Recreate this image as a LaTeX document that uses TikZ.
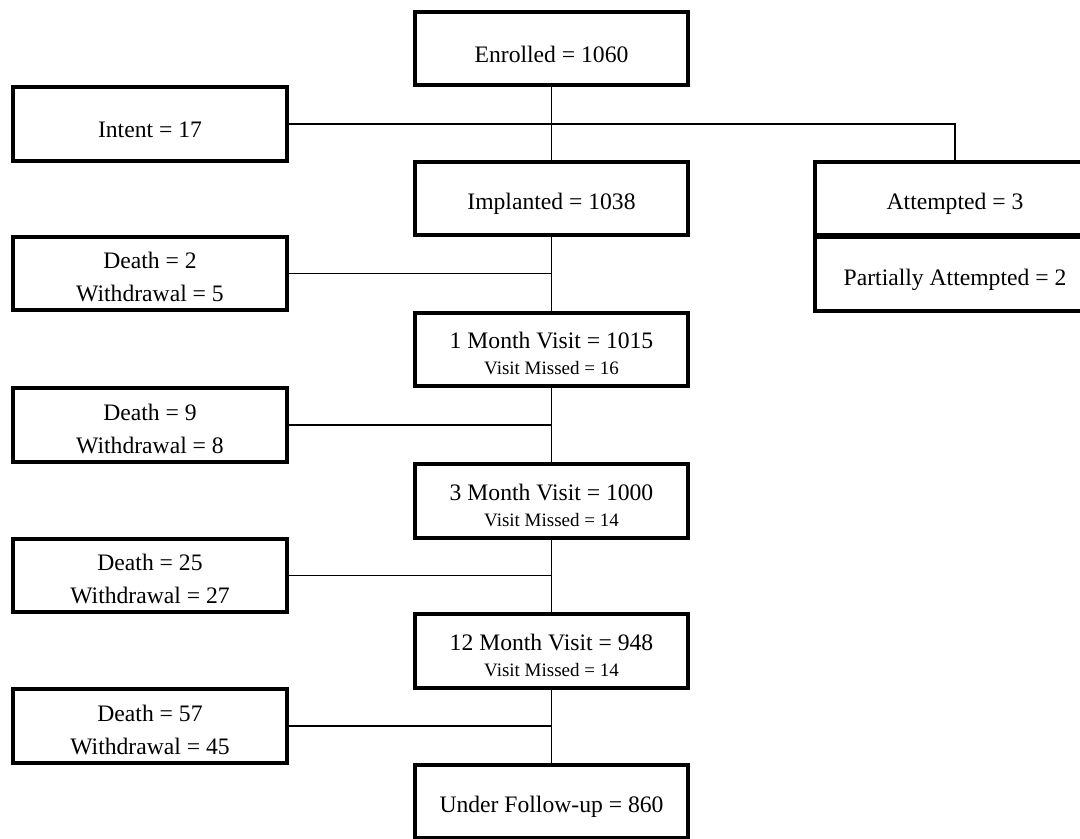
\documentclass[tikz,border=0pt]{standalone}
\usepackage{fontspec}
\setmainfont{Liberation Serif}

\begin{document}
\begin{tikzpicture}[x=0.025cm,y=-0.025cm,
  box/.style={draw,line width=2.9pt,minimum width=6.83cm,minimum height=1.83cm,inner sep=0pt,align=center,
    font=\fontsize{16.8}{23.4}\selectfont,execute at begin node={\rule{0pt}{#1}}},
  box/.default=19.5pt,
  link/.style={line width=0.9pt}]
  \useasboundingbox (0,0) rectangle (1080,838);

  % main column
  \node[box] (enrolled) at (551.5,48.5) {Enrolled = 1060};
  \node[box] (implanted) at (551.5,198.5) {Implanted = 1038};
  \node[box=36pt] (month1) at (551.5,349.5) {1 Month Visit = 1015\\[-5pt]{\fontsize{13.5}{15}\selectfont Visit Missed = 16}};
  \node[box=36pt] (month3) at (551.5,501) {3 Month Visit = 1000\\[-5pt]{\fontsize{13.5}{15}\selectfont Visit Missed = 14}};
  \node[box=36pt] (month12) at (551.5,651) {12 Month Visit = 948\\[-5pt]{\fontsize{13.5}{15}\selectfont Visit Missed = 14}};
  \node[box] (followup) at (551.5,801.5) {Under Follow-up = 860};

  % left column
  \node[box] (intent) at (150,124) {Intent = 17};
  \node[box=40.6pt] (death2) at (150,273.5) {Death = 2\\Withdrawal = 5};
  \node[box=40.6pt] (death9) at (150,425) {Death = 9\\Withdrawal = 8};
  \node[box=40.6pt] (death25) at (150,575.5) {Death = 25\\Withdrawal = 27};
  \node[box=40.6pt] (death57) at (150,726) {Death = 57\\Withdrawal = 45};

  % right column
  \node[box,minimum width=7cm] (attempted) at (955,198.5) {Attempted = 3};
  \node[box,minimum width=7cm] (partial) at (955,274) {Partially Attempted = 2};

  \draw[link] (enrolled.south) -- (implanted.north);
  \draw[link] (implanted.south) -- (month1.north);
  \draw[link] (month1.south) -- (month3.north);
  \draw[link] (month3.south) -- (month12.north);
  \draw[link] (month12.south) -- (followup.north);

  \draw[link] (intent.east) -| (attempted.north);
  \draw[link] (death2.east) -- (death2.east -| implanted.south);
  \draw[link] (death9.east) -- (death9.east -| month1.south);
  \draw[link] (death25.east) -- (death25.east -| month3.south);
  \draw[link] (death57.east) -- (death57.east -| month12.south);
\end{tikzpicture}
\end{document}
